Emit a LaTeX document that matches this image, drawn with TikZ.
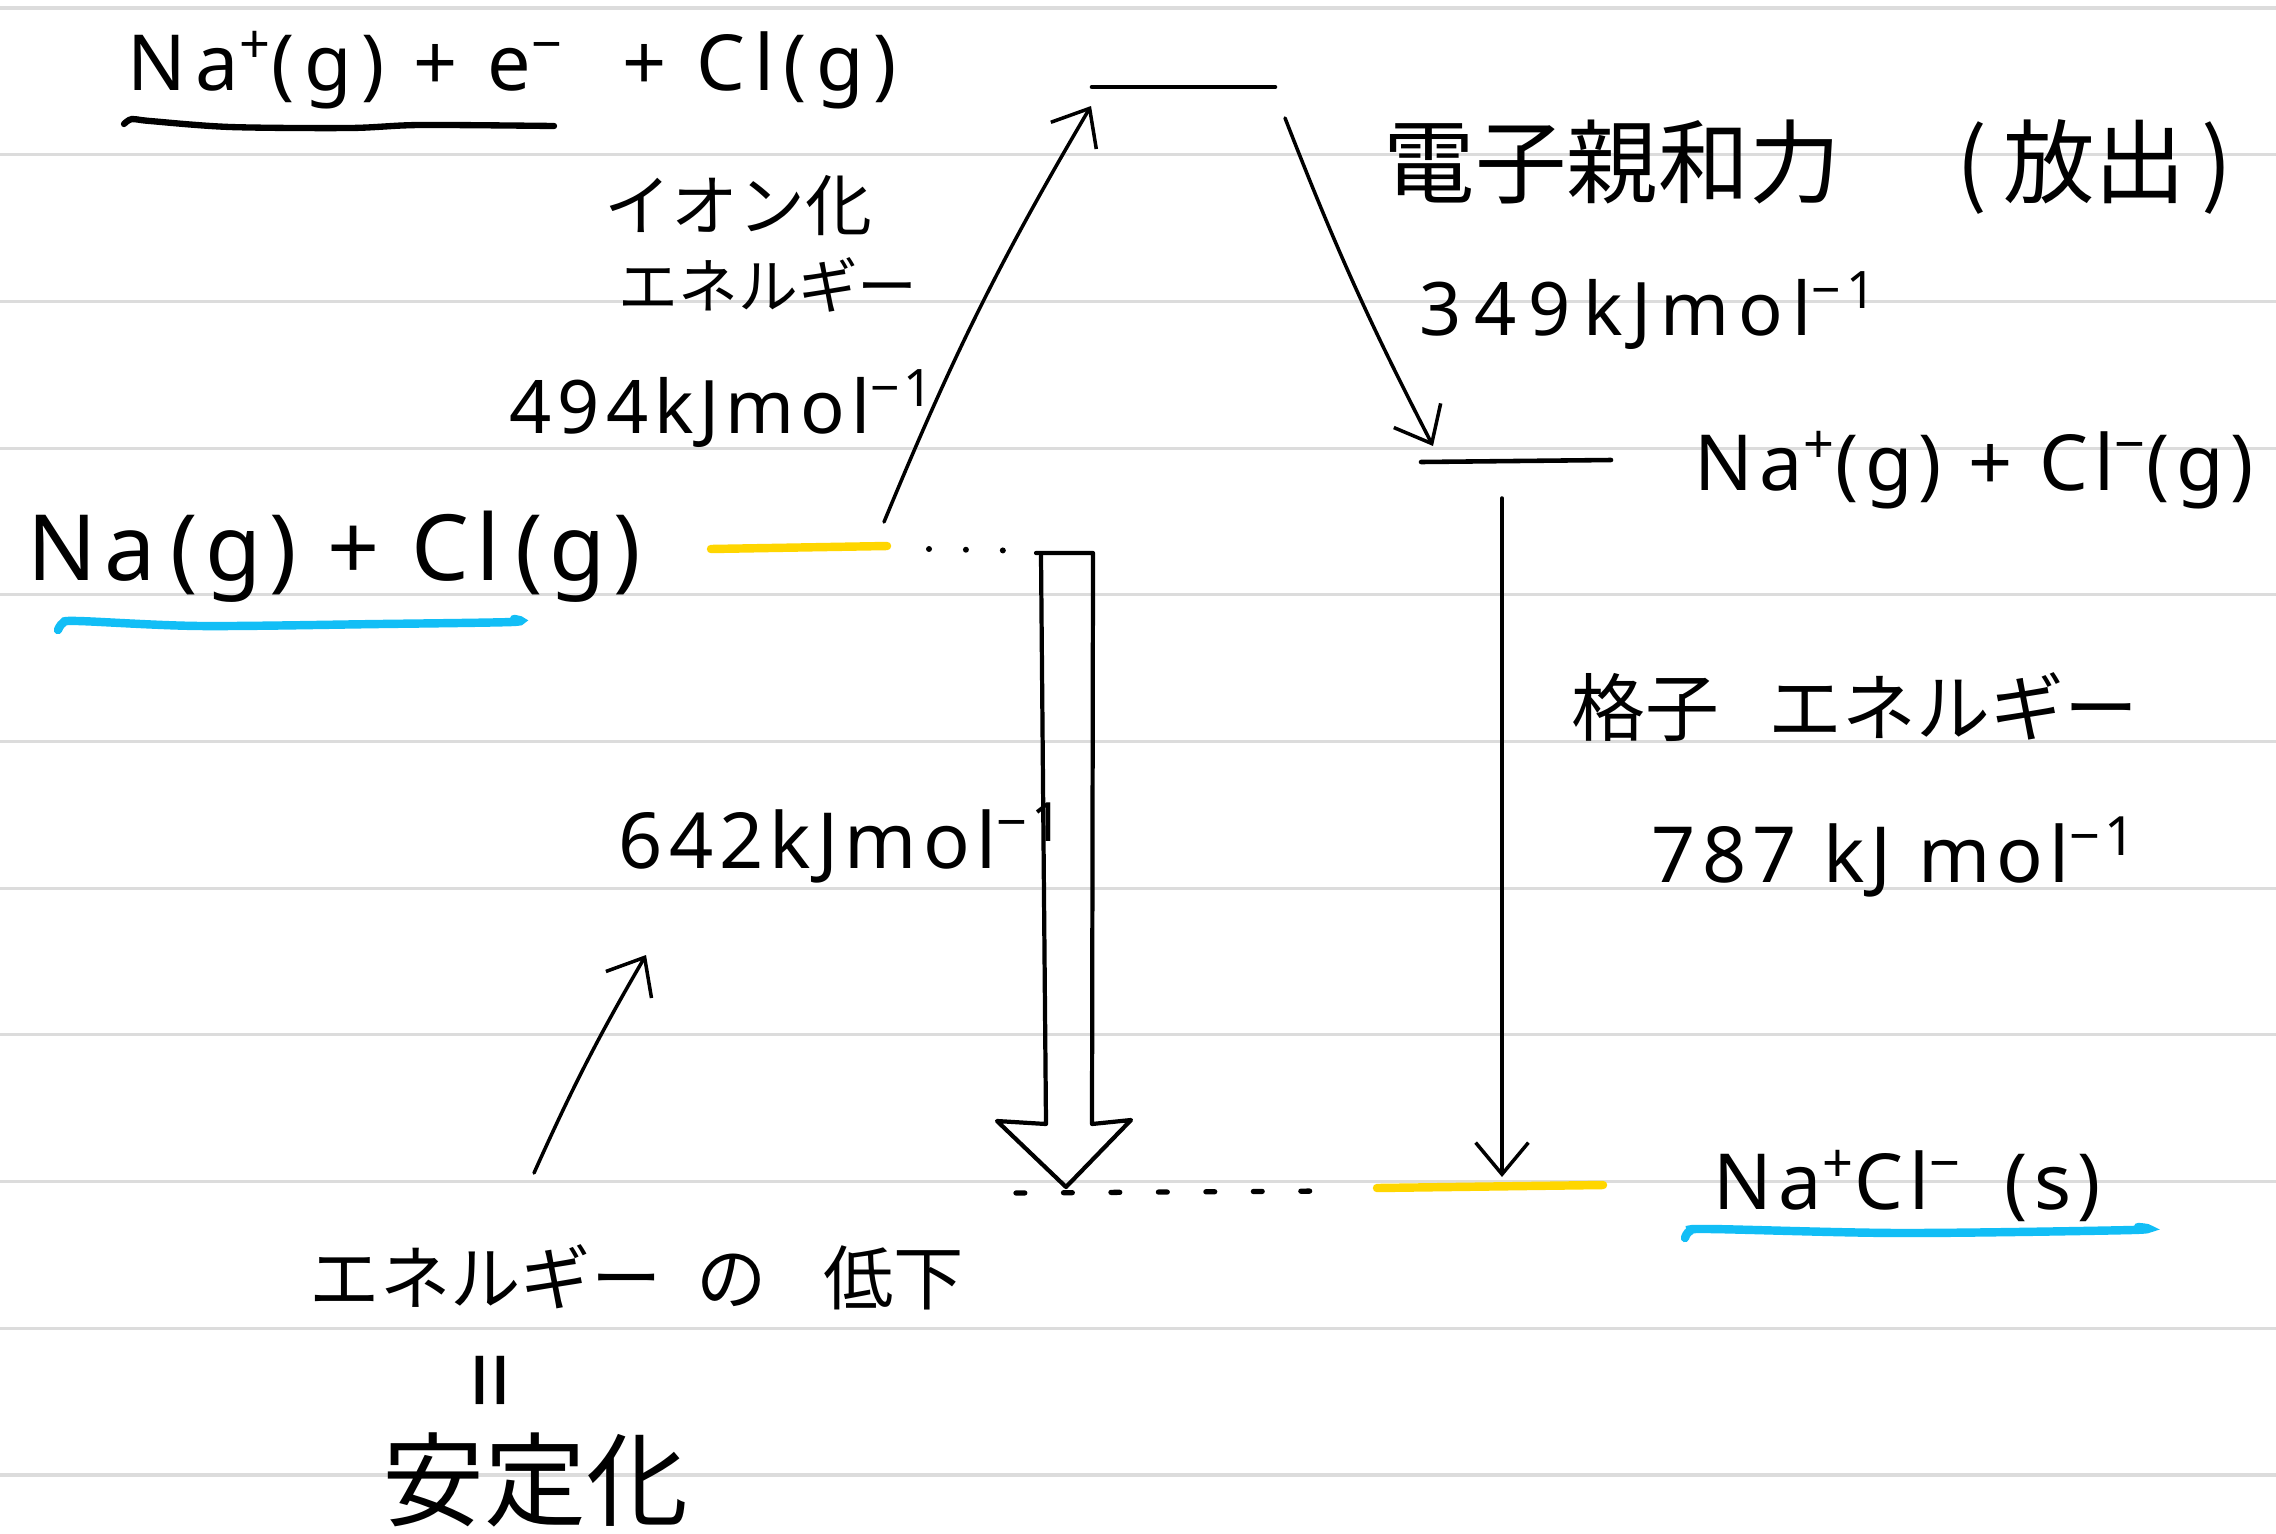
\documentclass[tikz,border=0pt]{standalone}
\usepackage{fontspec}
\setmainfont{Noto Sans}
\newfontfamily\hand{Noto Sans}[LetterSpace=8]
\newfontfamily\handwide{Noto Sans}[LetterSpace=12]
\newfontfamily\jp{Noto Sans CJK JP}
\usetikzlibrary{arrows.meta}
\definecolor{rulegray}{HTML}{DCDCDC}
\definecolor{hlyellow}{HTML}{FFD600}
\definecolor{hlblue}{HTML}{12BEF6}
\newcommand{\sps}[1]{\textsuperscript{#1}}
\begin{document}
\begin{tikzpicture}[x=0.01cm,y=-0.01cm,
  ink/.style={line width=1.3pt, line cap=round, line join=round, black},
  thinink/.style={line width=1.0pt, line cap=round, line join=round, black},
  barb/.style={-{Straight Barb[length=9pt,width=15pt,line width=1pt]}},
  hl/.style={line width=2.4pt, line cap=round},
  lbl/.style={inner sep=0pt, anchor=base west, font=\hand\fontsize{22}{26}\selectfont},
  jlbl/.style={inner sep=0pt, anchor=west, font=\jp\fontsize{20}{24}\selectfont},
]
\useasboundingbox (0,0) rectangle (2276,1533);
\fill[white] (0,0) rectangle (2276,1533);
% ruled paper
\foreach \k in {0,...,10} \draw[rulegray, line width=0.9pt] (0,8+146.7*\k) -- (2276,8+146.7*\k);

% energy levels
\coordinate (topL) at (1092,87);  \coordinate (topR) at (1275,87);
\draw[ink] (topL) -- (topR);
\coordinate (yelL) at (711,549);  \coordinate (yelR) at (887,546);
\draw[hl,hlyellow] (yelL) -- (yelR);
\coordinate (midL) at (1421,462); \coordinate (midR) at (1611,460);
\draw[ink] (midL) -- (midR);
\coordinate (botL) at (1377,1188); \coordinate (botR) at (1603,1185);
\draw[hl,hlyellow] (botL) -- (botR);

% labels
\node[lbl, font=\handwide\fontsize{22}{26}\selectfont] (lblTop) at (127,90) {Na\sps{+}(g) + e\sps{−} \ + Cl(g)};
\draw[line width=1.8pt, line cap=round] plot[smooth] coordinates {(124,124) (132,119) (150,121) (230,127) (350,128) (420,125) (554,126)};

\node[lbl, font=\hand\fontsize{26}{30}\selectfont] (lblNa) at (27,580) {Na\,(g) + Cl\,(g)};
\draw[hl, hlblue] plot[smooth] coordinates {(58,630) (63,623) (78,621) (200,626) (380,624) (512,622) (514,619)};

\node[jlbl, font=\jp\fontsize{19}{23}\selectfont] (ionA) at (604,206) {イオン化};
\node[jlbl, font=\jp\fontsize{17}{21}\selectfont] (ionB) at (618,285) {エネルギー};
\node[lbl, font=\hand\fontsize{21}{25}\selectfont] (ieVal) at (509,433) {494kJmol\sps{−1}};

\node[jlbl, font=\jp\fontsize{26}{30}\selectfont] (eaLbl) at (1383,167) {電子親和力\hspace{33pt}(\,放出\,)};
\node[lbl, font=\handwide\fontsize{21}{25}\selectfont] (eaVal) at (1419,335) {3\,4\,9\,kJmol\sps{−1}};

\node[lbl] (lblIons) at (1694,490) {Na\sps{+}(g) + Cl\sps{−}(g)};

\node[jlbl, font=\jp\fontsize{21}{25}\selectfont] (leLbl) at (1571,707) {格子\hspace{14pt}エネルギー};
\node[lbl] (leVal) at (1651,882) {787 kJ mol\sps{−1}};

\node[lbl] (lblS) at (1713,1209) {Na\sps{+}Cl\sps{−}\hspace{12pt}(s)};
\draw[hl, hlblue] plot[smooth] coordinates {(1685,1238) (1690,1231) (1710,1229) (1900,1233) (2132,1230) (2138,1227)};

\node[lbl] (v642) at (618,868) {642kJmol\sps{−1}};

\node[jlbl] (drop) at (309,1277) {エネルギー\hspace{10pt}の\hspace{16pt}低下};
\node[inner sep=0pt, rotate=90, font=\fontsize{30}{32}\selectfont] (eqs) at (502,1380) {=};
\node[jlbl, font=\jp\fontsize{29}{33}\selectfont] (stab) at (382,1480) {安定化};

% connectors
\coordinate (ieS) at (884,522); \coordinate (ieE) at (1091,106);
\draw[thinink, barb] (ieS) to[bend left=4] (ieE);
\coordinate (eaS) at (1285,118); \coordinate (eaE) at (1433,446);
\draw[thinink, barb] (eaS) to[bend right=3] (eaE);
\coordinate (leS) at (1502,498); \coordinate (leE) at (1502,1177);
\draw[thinink, barb] (leS) -- (leE);
\coordinate (noteS) at (534,1173); \coordinate (noteE) at (646,955);
\draw[thinink, barb] (noteS) to[bend left=3] (noteE);

% dotted guides
\coordinate (dotA) at (929,549); \coordinate (dotB) at (1033,551);
\draw[line width=1.7pt, line cap=round, dash pattern=on 0pt off 10.5pt] (dotA) -- (dotB);
\coordinate (dashA) at (1016,1193); \coordinate (dashB) at (1325,1191);
\draw[line width=1.5pt, line cap=round, dash pattern=on 2.5pt off 11pt] (dashA) -- (dashB);

% hollow arrow (overall energy change)
\draw[ink, line width=1.2pt] (1036,553) -- (1093,553) -- (1092,1124) -- (1131,1120) -- (1066,1187) -- (997,1121) -- (1046,1124) -- (1041,556);
\end{tikzpicture}
\end{document}
